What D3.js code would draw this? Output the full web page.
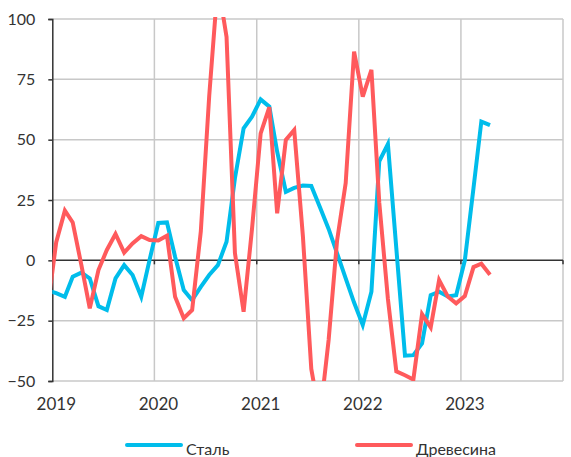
<!DOCTYPE html>
<html>
<head>
<meta charset="utf-8">
<script src="https://cdn.jsdelivr.net/npm/d3@7"></script>
<style>
  html, body { margin: 0; padding: 0; background: #fff; }
  svg { display: block; }
  text { font-family: Lato, "Open Sans", sans-serif; fill: #333; }
</style>
</head>
<body>
<script>
// Monthly data, Dec 2018 .. Apr 2023 (points placed mid-month)
const startYear = 2018, startMonth = 11; // Dec 2018
const steel = [
  -12.5,
  -13.6, -15.1, -6.8, -5.1, -7.5, -19, -20.6, -7.5, -2, -6.1, -15.1, 0.3,
  15.5, 15.7, 1.5, -12.3, -16.5, -11, -6.1, -2, 7.7, 34, 54.7, 59.5,
  66.7, 63.7, 45, 28.4, 30, 31, 30.8, 22, 13, 3, -7.5, -17.5,
  -26.8, -13, 41, 48.2, 5, -39.5, -39.3, -34.4, -14.4, -13, -15, -14.5,
  0, 30, 57.5, 56
];
const wood = [
  -20,
  7.5, 20.6, 15.7, -2, -19.9, -4, 4.3, 10.9, 3.2, 7, 10, 8.4,
  8.2, 10.2, -15.1, -24, -20.6, 12, 68, 115, 92.6, 3, -21.3, 13,
  52.6, 63.5, 19.5, 49.9, 54, 10, -45, -65, -33, 8, 32, 86.5,
  67.8, 78.9, 24, -16, -46, -47.6, -49.4, -22.3, -27.8, -8.2, -15, -17.8,
  -14.8, -2.8, -1.4, -6
];
const yTicks = [-50, -25, 0, 25, 50, 75, 100];
const xTickYears = [2019, 2020, 2021, 2022, 2023];
const seriesNames = ["Сталь", "Древесина"];
const colors = ["#00BDEB", "#FF5A5C"];

(function () {
const W = 571, H = 457;
const mLeft = 52.3, mRight = 563, mTop = 19, mBottom = 381;

const svg = d3.select("body").append("svg").attr("width", W).attr("height", H);

const x = d3.scaleTime()
  .domain([new Date(2019, 0, 1), new Date(2024, 0, 1)])
  .range([mLeft, mRight]);
const y = d3.scaleLinear().domain([-50, 100]).range([mBottom, mTop]);

const dateOf = i => new Date(startYear, startMonth + i, 15);

// horizontal grid
svg.append("g").selectAll("line").data(yTicks.filter(v => v !== 0)).join("line")
  .attr("x1", mLeft).attr("x2", mRight)
  .attr("y1", d => y(d)).attr("y2", d => y(d))
  .attr("stroke", "#c8c8c8").attr("stroke-width", 1.5);

// vertical grid
const gridYears = xTickYears.slice(1).concat([2024]);
svg.append("g").selectAll("line").data(gridYears).join("line")
  .attr("x1", d => x(new Date(d, 0, 1))).attr("x2", d => x(new Date(d, 0, 1)))
  .attr("y1", mTop).attr("y2", mBottom)
  .attr("stroke", "#c8c8c8").attr("stroke-width", 1.5);

// zero line with ticks
svg.append("line").attr("x1", mLeft).attr("x2", mRight)
  .attr("y1", y(0)).attr("y2", y(0)).attr("stroke", "#333").attr("stroke-width", 1.5);
svg.append("g").selectAll("line").data(gridYears).join("line")
  .attr("x1", d => x(new Date(d, 0, 1))).attr("x2", d => x(new Date(d, 0, 1)))
  .attr("y1", y(0)).attr("y2", y(0) + 4)
  .attr("stroke", "#333").attr("stroke-width", 1.5);

// left axis
const yAxis = d3.axisLeft(y).tickValues(yTicks).tickSize(4).tickPadding(13);
const gy = svg.append("g").attr("transform", `translate(${mLeft},0)`).call(yAxis);
gy.select(".domain").attr("stroke", "#333").attr("stroke-width", 1.5);
gy.selectAll(".tick line").attr("stroke", "#333").attr("stroke-width", 1.5);
gy.selectAll(".tick text").style("font-size", "16px").attr("fill", "#333")
  .style("font-family", "Lato, sans-serif");

// x labels
svg.append("g").selectAll("text").data(xTickYears).join("text")
  .attr("x", d => x(new Date(d, 0, 1)) + 4)
  .attr("y", 410)
  .attr("text-anchor", "middle")
  .style("font-size", "17px")
  .text(d => d);

// clip
svg.append("clipPath").attr("id", "clip").append("rect")
  .attr("x", mLeft).attr("y", mTop - 2).attr("width", mRight - mLeft).attr("height", mBottom - mTop + 2);

const line = d3.line().x((d, i) => x(dateOf(i))).y(d => y(d));
const g = svg.append("g").attr("clip-path", "url(#clip)");
[steel, wood].forEach((s, k) => {
  g.append("path").datum(s).attr("d", line)
    .attr("fill", "none").attr("stroke", colors[k]).attr("stroke-width", 4)
    .attr("stroke-linejoin", "miter").attr("stroke-miterlimit", 4);
});

// legend
const legendX = [127, 357];
seriesNames.forEach((n, k) => {
  svg.append("line").attr("x1", legendX[k]).attr("x2", legendX[k] + 54)
    .attr("y1", 445).attr("y2", 445)
    .attr("stroke", colors[k]).attr("stroke-width", 4).attr("stroke-linecap", "round");
  svg.append("text").attr("x", legendX[k] + 59).attr("y", 455)
    .style("font-size", "16px").text(n);
});
})();
</script>
</body>
</html>
